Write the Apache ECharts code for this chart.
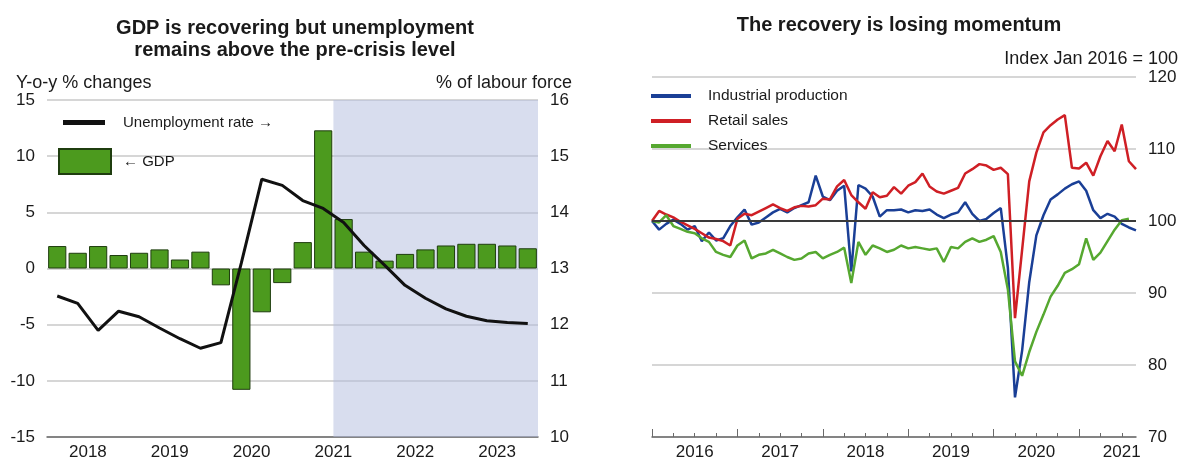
<!DOCTYPE html>
<html>
<head>
<meta charset="utf-8">
<script src="https://cdn.jsdelivr.net/npm/echarts@6/dist/echarts.min.js"></script>
<style>
html, body { margin: 0; padding: 0; background: #fff; }
#chart { width: 1189px; height: 461px; }
</style>
</head>
<body>
<div id="chart"></div>
<script>
// left panel: quarterly GDP growth and unemployment rate
var quarters = [
	'2018Q1', '2018Q2', '2018Q3', '2018Q4',
	'2019Q1', '2019Q2', '2019Q3', '2019Q4',
	'2020Q1', '2020Q2', '2020Q3', '2020Q4',
	'2021Q1', '2021Q2', '2021Q3', '2021Q4',
	'2022Q1', '2022Q2', '2022Q3', '2022Q4',
	'2023Q1', '2023Q2', '2023Q3', '2023Q4'
];
var years = ['2018', '2019', '2020', '2021', '2022', '2023'];
var gdp = [2.0, 1.4, 2.0, 1.2, 1.4, 1.7, 0.8, 1.5, -1.5, -10.8, -3.9, -1.3,
	2.35, 12.3, 4.4, 1.5, 0.7, 1.3, 1.7, 2.05, 2.2, 2.2, 2.05, 1.8];
var unemployment = [12.51, 12.38, 11.9, 12.24, 12.14, 11.94, 11.75, 11.58,
	11.68, 13.1, 14.59, 14.48, 14.21, 14.07, 13.82, 13.41,
	13.06, 12.7, 12.47, 12.28, 12.15, 12.07, 12.04, 12.02];
var projStart = 14; // first projected quarter (2021Q3)

// right panel: monthly indices, Jan 2016 = 100
var monthNames = ['Jan', 'Feb', 'Mar', 'Apr', 'May', 'Jun', 'Jul', 'Aug', 'Sep', 'Oct', 'Nov', 'Dec'];
var months = [];
for (var y = 2016; y <= 2021; y++)
{
	for (var m = 0; m < 12; m++)
	{
		if (y == 2021 && m > 8)
			break;
		months.push(monthNames[m] + ' ' + y);
	}
}
var industrial = [100.0, 98.8, 99.6, 100.2, 99.6, 98.8, 99.3, 97.2, 98.4, 97.3, 97.6, 99.3,
	100.5, 101.6, 99.5, 99.8, 100.5, 101.2, 101.7, 101.2, 101.8, 102.2, 102.6, 106.3,
	103.4, 102.9, 104.2, 104.9, 93.0, 105.0, 104.5, 103.4, 100.6, 101.5, 101.5, 101.6,
	101.2, 101.5, 101.4, 101.6, 100.9, 100.4, 100.9, 101.2, 102.6, 101.0, 100.0, 100.3,
	101.1, 101.8, 93.5, 75.5, 82.0, 91.5, 98.0, 100.8, 103.0, 103.7, 104.5, 105.1,
	105.5, 104.2, 101.5, 100.4, 101.0, 100.6, 99.6, 99.1, 98.7];
var retail = [100.0, 101.4, 100.9, 100.5, 99.9, 99.4, 98.9, 98.3, 97.7, 97.5, 97.2, 96.6,
	100.3, 101.0, 100.8, 101.3, 101.8, 102.3, 101.8, 101.4, 101.9, 102.1, 102.0, 102.2,
	103.1, 103.0, 104.8, 105.7, 103.6, 102.6, 101.7, 104.0, 103.3, 103.5, 104.7, 103.8,
	104.9, 105.4, 106.6, 104.8, 104.1, 103.8, 104.2, 104.6, 106.6, 107.2, 107.9, 107.7,
	107.1, 107.4, 106.5, 86.5, 96.0, 105.5, 109.5, 112.3, 113.3, 114.1, 114.7, 107.4,
	107.3, 108.1, 106.3, 109.0, 111.1, 109.7, 113.4, 108.3, 107.2];
var services = [100.0, 99.8, 100.8, 99.3, 98.9, 98.5, 98.3, 97.6, 97.1, 95.7, 95.3, 95.0,
	96.6, 97.3, 94.8, 95.3, 95.5, 96.0, 95.5, 95.0, 94.6, 94.8, 95.5, 95.7,
	94.8, 95.3, 95.7, 96.3, 91.4, 97.1, 95.3, 96.6, 96.2, 95.7, 96.0, 96.6,
	96.2, 96.4, 96.2, 96.0, 96.2, 94.3, 96.4, 96.2, 97.1, 97.6, 97.1, 97.4,
	97.9, 95.7, 90.5, 80.5, 78.5, 81.8, 84.6, 87.0, 89.5, 91.0, 92.8, 93.3,
	94.0, 97.6, 94.6, 95.6, 97.2, 98.8, 100.1, 100.3];

var font = 'Liberation Sans, Arial, sans-serif',
	txt = '#1a1a1a',
	grey = '#c8c8c8',
	axisCol = '#6a6a6a';

var chart = echarts.init(document.getElementById('chart'), null, { renderer: 'canvas' });

var option = {
	animation: false,
	textStyle: { fontFamily: font, color: txt },
	title: [
		{
			text: 'GDP is recovering but unemployment\nremains above the pre-crisis level',
			left: 290, top: 12, textAlign: 'center',
			textStyle: { fontFamily: font, fontSize: 20, fontWeight: 'bold', lineHeight: 22, color: txt }
		},
		{
			text: 'The recovery is losing momentum',
			left: 894, top: 10, textAlign: 'center',
			textStyle: { fontFamily: font, fontSize: 20, fontWeight: 'bold', color: txt }
		},
		{
			text: 'Y-o-y % changes', left: 11, top: 69,
			textStyle: { fontFamily: font, fontSize: 18, fontWeight: 'normal', color: txt }
		},
		{
			text: '% of labour force', right: 612, top: 69,
			textStyle: { fontFamily: font, fontSize: 18, fontWeight: 'normal', color: txt }
		},
		{
			text: 'Index Jan 2016 = 100', right: 6, top: 45,
			textStyle: { fontFamily: font, fontSize: 18, fontWeight: 'normal', color: txt }
		}
	],
	legend: [
		{
			data: [{ name: 'Unemployment rate \u2192', icon: 'rect' }],
			left: 63, top: 115, padding: 0, itemWidth: 42, itemHeight: 5,
			textStyle: { fontFamily: font, fontSize: 15, color: txt, padding: [0, 0, 0, 13] }
		},
		{
			data: [{ name: '\u2190 GDP', icon: 'rect' }],
			left: 58, top: 148, padding: 0, itemWidth: 52, itemHeight: 25,
			textStyle: { fontFamily: font, fontSize: 15, color: txt, padding: [0, 0, 0, 7] }
		},
		{
			data: [
				{ name: 'Industrial production', icon: 'rect' },
				{ name: 'Retail sales', icon: 'rect' },
				{ name: 'Services', icon: 'rect' }
			],
			left: 651, top: 88, padding: 0, orient: 'vertical', itemWidth: 40, itemHeight: 4, itemGap: 9,
			textStyle: { fontFamily: font, fontSize: 15.5, color: txt, padding: [0, 0, 0, 12] }
		}
	],
	grid: [
		{ left: 47, top: 100, width: 491, height: 339 },
		{ left: 652, top: 77, width: 484, height: 363 }
	],
	xAxis: [
		{
			type: 'category', gridIndex: 0, data: quarters, boundaryGap: true, position: 'bottom',
			axisLine: { onZero: false, lineStyle: { color: axisCol, width: 1.5 } },
			axisTick: { inside: true, length: 4, interval: 0, lineStyle: { color: axisCol } },
			axisLabel: { show: false },
			splitLine: { show: false }
		},
		{
			type: 'category', gridIndex: 0, data: years, boundaryGap: true, position: 'bottom',
			axisLine: { show: false, onZero: false },
			axisTick: { inside: true, length: 8, interval: 0, lineStyle: { color: axisCol } },
			axisLabel: { interval: 0, fontSize: 17, margin: 7, color: txt, fontFamily: font },
			splitLine: { show: false }
		},
		{
			type: 'value', gridIndex: 0, min: 0, max: quarters.length, show: false
		},
		{
			type: 'category', gridIndex: 1, data: months, boundaryGap: false, position: 'bottom',
			axisLine: { onZero: false, lineStyle: { color: axisCol, width: 1.5 } },
			axisTick: {
				inside: true, length: 4, lineStyle: { color: axisCol },
				interval: function (index) { return index % 3 === 0; }
			},
			axisLabel: {
				fontSize: 17, margin: 7, color: txt, fontFamily: font,
				interval: function (index) { return index % 12 === 6; },
				formatter: function (v) { return v.split(' ')[1]; }
			},
			splitLine: { show: false }
		},
		{
			type: 'category', gridIndex: 1, data: months, boundaryGap: false, position: 'bottom',
			axisLine: { show: false, onZero: false },
			axisTick: {
				inside: true, length: 8, lineStyle: { color: axisCol },
				interval: function (index) { return index % 12 === 0; }
			},
			axisLabel: { show: false },
			splitLine: { show: false }
		}
	],
	yAxis: [
		{
			type: 'value', gridIndex: 0, position: 'left', min: -15, max: 15, interval: 5,
			axisLine: { show: false }, axisTick: { show: false },
			axisLabel: { fontSize: 17, margin: 12, color: txt, fontFamily: font },
			splitLine: { lineStyle: { color: grey, width: 1.5 } }
		},
		{
			type: 'value', gridIndex: 0, position: 'right', min: 10, max: 16, interval: 1,
			axisLine: { show: false }, axisTick: { show: false },
			axisLabel: { fontSize: 17, margin: 12, color: txt, fontFamily: font },
			splitLine: { show: false }
		},
		{
			type: 'value', gridIndex: 1, position: 'right', min: 70, max: 120, interval: 10,
			axisLine: { show: false }, axisTick: { show: false },
			axisLabel: { fontSize: 17, margin: 12, color: txt, fontFamily: font },
			splitLine: { lineStyle: { color: grey, width: 1.5 } }
		}
	],
	series: [
		{
			name: 'projection', type: 'line', xAxisIndex: 2, yAxisIndex: 0, data: [], z: 1,
			markArea: {
				silent: true,
				itemStyle: { color: 'rgba(178,188,222,0.5)' },
				data: [[{ xAxis: projStart }, { xAxis: quarters.length }]]
			}
		},
		{
			name: '\u2190 GDP', type: 'bar', xAxisIndex: 0, yAxisIndex: 0, data: gdp,
			barCategoryGap: '11%', z: 3,
			itemStyle: { color: '#4c9a1e', borderColor: '#1f3d0f', borderWidth: 1 }
		},
		{
			name: 'Unemployment rate \u2192', type: 'line', xAxisIndex: 0, yAxisIndex: 1,
			data: unemployment, symbol: 'none', z: 4,
			lineStyle: { color: '#111', width: 3 },
			itemStyle: { color: '#111' }
		},
		{
			name: 'Industrial production', type: 'line', xAxisIndex: 3, yAxisIndex: 2,
			data: industrial, symbol: 'none',
			lineStyle: { color: '#1a3f96', width: 2.5 },
			itemStyle: { color: '#1a3f96' },
			markLine: {
				silent: true, symbol: 'none', label: { show: false },
				lineStyle: { color: '#3a3a3a', width: 2, type: 'solid' },
				data: [{ yAxis: 100 }]
			}
		},
		{
			name: 'Retail sales', type: 'line', xAxisIndex: 3, yAxisIndex: 2,
			data: retail, symbol: 'none',
			lineStyle: { color: '#cf1f25', width: 2.5 },
			itemStyle: { color: '#cf1f25' }
		},
		{
			name: 'Services', type: 'line', xAxisIndex: 3, yAxisIndex: 2,
			data: services, symbol: 'none',
			lineStyle: { color: '#56a830', width: 2.5 },
			itemStyle: { color: '#56a830' }
		}
	]
};

chart.setOption(option);
</script>
</body>
</html>
